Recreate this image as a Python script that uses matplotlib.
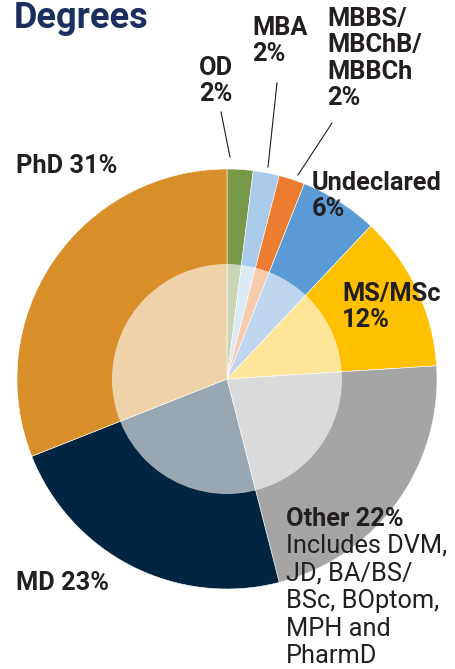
import matplotlib.pyplot as plt
from matplotlib.patches import Circle

# degrees, clockwise from 12 o'clock
degrees = ['OD', 'MBA', 'MBBS/MBChB/MBBCh', 'Undeclared', 'MS/MSc', 'Other', 'MD', 'PhD']
shares = [2, 2, 2, 6, 12, 22, 23, 31]
colors = ['#78994A', '#A9CBE9', '#EC7D30', '#5B9BD5', '#FFC000', '#A5A5A5', '#002540', '#D98F29']

plt.rcParams['font.family'] = ['Roboto', 'DejaVu Sans']
W, H = 455, 669
fig = plt.figure(figsize=(W / 100, H / 100), dpi=100)
ax = fig.add_axes([0, 0, 1, 1])

cx, cy, r = 227, H - 379, 210
ax.pie(shares, colors=colors, startangle=90, counterclock=False,
       center=(cx, cy), radius=r, frame=True,
       wedgeprops=dict(linewidth=0.4, edgecolor='white'))
ax.set_xlim(0, W)
ax.set_ylim(0, H)
ax.axis('off')
# lighter inner disc
ax.add_patch(Circle((cx, cy), 115, facecolor='white', alpha=0.6, edgecolor='none', zorder=5))

txt = '#231F20'
fs = 18.3
def label(x, y, s, weight='bold', color=txt, size=fs, ls=1.13):
    ax.text(x, H - y, s, ha='left', va='top', fontsize=size, fontweight=weight,
            color=color, linespacing=ls, zorder=10)

ax.text(14, H - 28, 'Degrees', ha='left', va='baseline', fontsize=26,
        fontweight='bold', color='#1B2F5E')
label(199, 56, 'OD\n2%')
label(252, 16, 'MBA\n2%')
label(327, 7, 'MBBS/\nMBChB/\nMBBCh\n2%')
label(16, 154, 'PhD 31%')
label(312, 171, 'Undeclared\n6%')
label(342, 282, 'MS/MSc\n12%')
label(286, 507, 'Other 22%')
label(286, 534, 'Includes DVM,\nJD, BA/BS/\nBSc, BOptom,\nMPH and\nPharmD', weight='normal', ls=1.19)
label(16, 571, 'MD 23%')

# leader lines
for (x1, y1), (x2, y2) in [((221, 112), (230, 157)),
                           ((277, 83), (268, 167)),
                           ((332, 123), (298, 175))]:
    ax.plot([x1, x2], [H - y1, H - y2], color=txt, lw=0.8, zorder=10)

fig.savefig('out.png', dpi=100)
